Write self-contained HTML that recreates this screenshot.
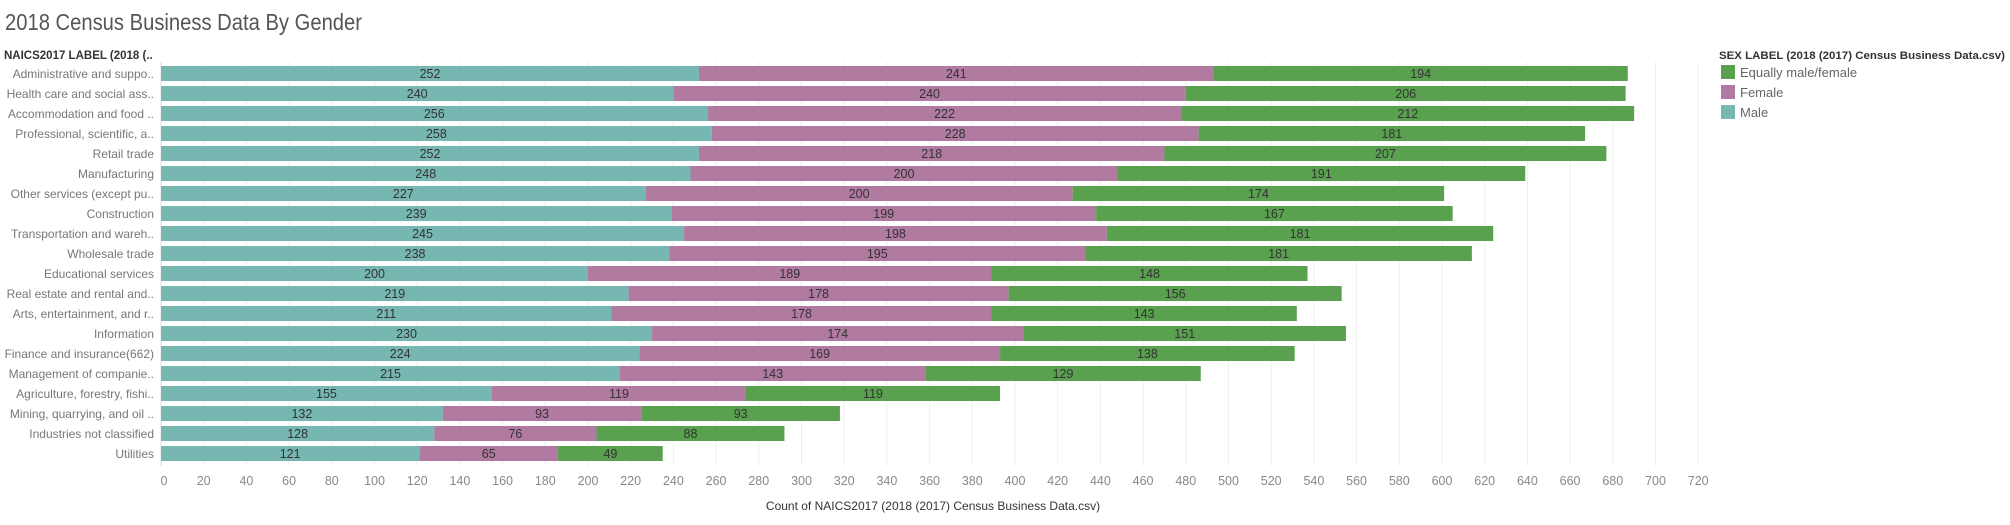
<!DOCTYPE html>
<html><head><meta charset="utf-8"><style>
body{margin:0;background:#fff;font-family:"Liberation Sans",sans-serif;}
svg text{font-family:"Liberation Sans",sans-serif;}
</style></head><body>
<svg id="c" width="2010" height="520" xmlns="http://www.w3.org/2000/svg">
<text x="5" y="30" font-size="23" fill="#555" textLength="357" lengthAdjust="spacingAndGlyphs">2018 Census Business Data By Gender</text>
<text x="4" y="59" font-size="11.5" font-weight="bold" fill="#333">NAICS2017 LABEL (2018 (..</text>
<text x="1719" y="59" font-size="11" font-weight="bold" fill="#333" textLength="286" lengthAdjust="spacingAndGlyphs">SEX LABEL (2018 (2017) Census Business Data.csv)</text>
<g><rect x="1721" y="65" width="14" height="14" fill="#59a14f"/><text x="1740" y="77" font-size="13" fill="#666">Equally male/female</text></g>
<g><rect x="1721" y="85" width="14" height="14" fill="#b07aa1"/><text x="1740" y="97" font-size="13" fill="#666">Female</text></g>
<g><rect x="1721" y="105" width="14" height="14" fill="#76b7b2"/><text x="1740" y="117" font-size="13" fill="#666">Male</text></g>
<text x="933" y="510" font-size="12" fill="#333" text-anchor="middle">Count of NAICS2017 (2018 (2017) Census Business Data.csv)</text>
<g id="grid"></g><g id="bars"></g><g id="ylab"></g><g id="xt"></g>
</svg>
<script>
const categories=["Administrative and suppo..","Health care and social ass..","Accommodation and food ..","Professional, scientific, a..","Retail trade","Manufacturing","Other services (except pu..","Construction","Transportation and wareh..","Wholesale trade","Educational services","Real estate and rental and..","Arts, entertainment, and r..","Information","Finance and insurance(662)","Management of companie..","Agriculture, forestry, fishi..","Mining, quarrying, and oil ..","Industries not classified","Utilities"];
const male=[252,240,256,258,252,248,227,239,245,238,200,219,211,230,224,215,155,132,128,121];
const female=[241,240,222,228,218,200,200,199,198,195,189,178,178,174,169,143,119,93,76,65];
const equal=[194,206,212,181,207,191,174,167,181,181,148,156,143,151,138,129,119,93,88,49];
const ticks=[0,20,40,60,80,100,120,140,160,180,200,220,240,260,280,300,320,340,360,380,400,420,440,460,480,500,520,540,560,580,600,620,640,660,680,700,720];
const NS="http://www.w3.org/2000/svg";
const x0=161,sc=2.135,top0=66,pitch=20,bh=15;
const X=v=>x0+v*sc, Y=i=>top0+i*pitch;
function mk(t,a,p){const e=document.createElementNS(NS,t);for(const k in a)e.setAttribute(k,a[k]);p.appendChild(e);return e;}
const g=document.getElementById('grid'),b=document.getElementById('bars'),yl=document.getElementById('ylab'),xt=document.getElementById('xt');
ticks.forEach(t=>{
 const l=mk('line',{x1:X(t),x2:X(t),y1:62,y2:466,stroke:t===0?'#ddd':'#eee','stroke-width':1},g);
 
 
 const tx=mk('text',{x:X(t)+(t===0?3:0),y:485,'font-size':12.5,fill:'#888','text-anchor':'middle'},xt);tx.textContent=t;
 
 
});
const series=[[male,'#76b7b2','male'],[female,'#b07aa1','female'],[equal,'#59a14f','equal']];
categories.forEach((c,i)=>{
 const lt=mk('text',{x:154,y:Y(i)+12,'font-size':12,fill:'#777','text-anchor':'end'},yl);lt.textContent=c;
 
 
 let acc=0;
 series.forEach(([arr,col,nm])=>{
  const v=arr[i];
  const r=mk('rect',{x:X(acc),y:Y(i),width:v*sc,height:bh,fill:col},b);
  
  
  const t=mk('text',{x:X(acc+v/2),y:Y(i)+12,'font-size':12.5,fill:'#333','text-anchor':'middle'},b);t.textContent=v;
  
  
  acc+=v;
 });
});
</script>
</body></html>
